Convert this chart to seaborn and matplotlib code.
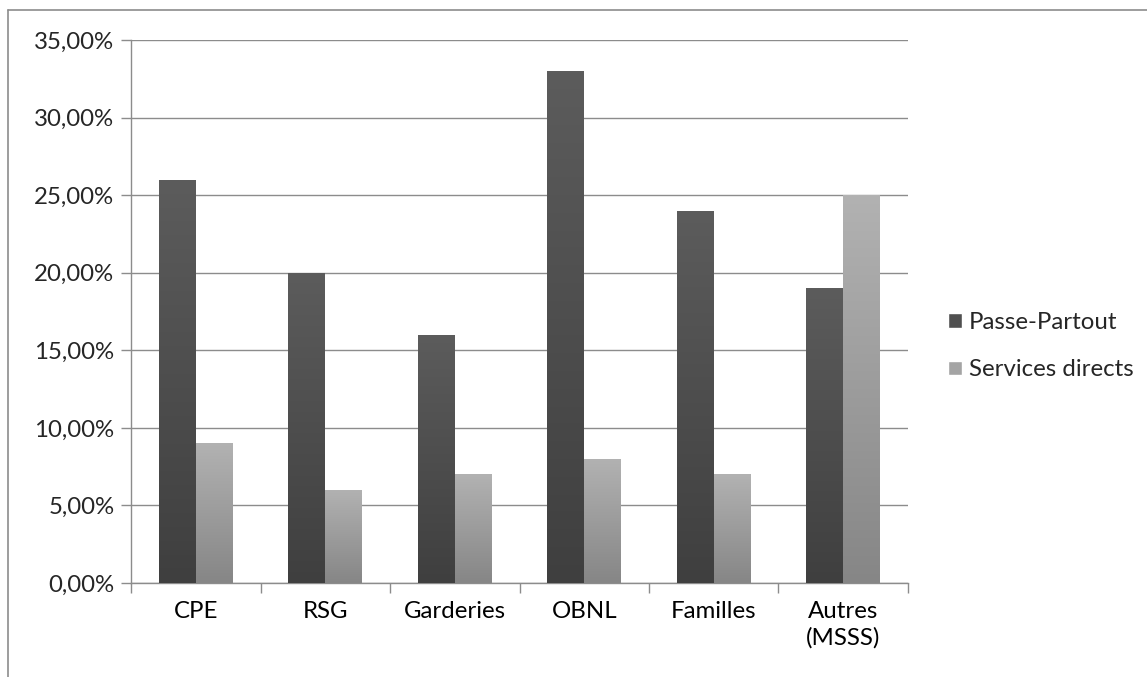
import numpy as np
import pandas as pd
import matplotlib
matplotlib.use("Agg")
import matplotlib.pyplot as plt
import seaborn as sns
from matplotlib.colors import LinearSegmentedColormap
from matplotlib.ticker import FuncFormatter, FixedLocator
from matplotlib.patches import Patch
from matplotlib.lines import Line2D

categories = ["CPE", "RSG", "Garderies", "OBNL", "Familles", "Autres\n(MSSS)"]
passe_partout = [26, 20, 16, 33, 24, 19]
services_directs = [9, 6, 7, 8, 7, 25]
series_names = ["Passe-Partout", "Services directs"]

df = pd.DataFrame({
    "cat": categories * 2,
    "val": passe_partout + services_directs,
    "serie": [series_names[0]] * 6 + [series_names[1]] * 6,
})

sns.set_theme(style="white")
plt.rcParams["font.family"] = ["Lato", "DejaVu Sans"]
FS = 17.3

fig = plt.figure(figsize=(11.47, 6.77), dpi=100)
ax = fig.add_axes([131 / 1147, 1 - 583 / 677, (908 - 131) / 1147, (583 - 40) / 677])

pal = {series_names[0]: "#4e4e4e", series_names[1]: "#a0a0a0"}
sns.barplot(data=df, x="cat", y="val", hue="serie", palette=pal, ax=ax,
            width=0.57, legend=False, saturation=1)

ax.set_xlim(-0.5, 5.5)
ax.set_ylim(0, 35)
ax.set_yticks(np.arange(0, 36, 5))
ax.yaxis.set_major_formatter(FuncFormatter(lambda v, p: f"{v:.2f}%".replace(".", ",")))
ax.grid(axis="y", color="#8c8c8c", linewidth=1)
ax.set_axisbelow(True)
ax.set_xlabel("")
ax.set_ylabel("")

# gradients
grads = {
    0: LinearSegmentedColormap.from_list("d", ["#3f3f3f", "#5c5c5c"]),
    1: LinearSegmentedColormap.from_list("l", ["#868686", "#b2b2b2"]),
}
for ci, cont in enumerate(ax.containers):
    for bar in cont:
        x0, y0 = bar.get_x(), bar.get_y()
        w, h = bar.get_width(), bar.get_height()
        grad = np.linspace(0, 1, 256).reshape(-1, 1)
        im = ax.imshow(grad, cmap=grads[ci], aspect="auto", origin="lower",
                       extent=[x0, x0 + w, y0, y0 + h], zorder=3)
        im.set_clip_path(bar)
        bar.set_edgecolor("none")
ax.set_xlim(-0.5, 5.5)
ax.set_ylim(0, 35)

for s in ["top", "right"]:
    ax.spines[s].set_visible(False)
for s in ["left", "bottom"]:
    ax.spines[s].set_color("#8c8c8c")
    ax.spines[s].set_linewidth(1)

ax.xaxis.set_major_locator(FixedLocator(np.arange(6)))
ax.set_xticklabels(categories, linespacing=1.3)
ax.xaxis.set_minor_locator(FixedLocator(np.arange(-0.5, 6.0, 1)))
ax.tick_params(axis="x", which="major", length=0, pad=13, labelsize=FS, colors="black")
ax.tick_params(axis="x", which="minor", length=7, color="#8c8c8c", width=1, direction="out", bottom=True)
ax.tick_params(axis="y", which="major", length=7, color="#8c8c8c", width=1, direction="out",
               left=True, labelsize=FS, pad=5)

handles = [Patch(facecolor="#505050", label=series_names[0]),
           Patch(facecolor="#a4a4a4", label=series_names[1])]
fig.legend(handles=handles, loc="center left", bbox_to_anchor=(926 / 1147, 1 - 346 / 677),
           frameon=False, fontsize=FS, handlelength=0.58, handleheight=0.58,
           handletextpad=0.3, labelspacing=1.12)

# outer chart-area border (only top and left edges are visible in the crop)
fig.add_artist(Line2D([8 / 1147, 8 / 1147], [0, 1 - 10 / 677], transform=fig.transFigure,
                      color="#8c8c8c", linewidth=1.2))
fig.add_artist(Line2D([8 / 1147, 1], [1 - 10 / 677, 1 - 10 / 677], transform=fig.transFigure,
                      color="#8c8c8c", linewidth=1.2))

fig.savefig("out.png", dpi=100)
